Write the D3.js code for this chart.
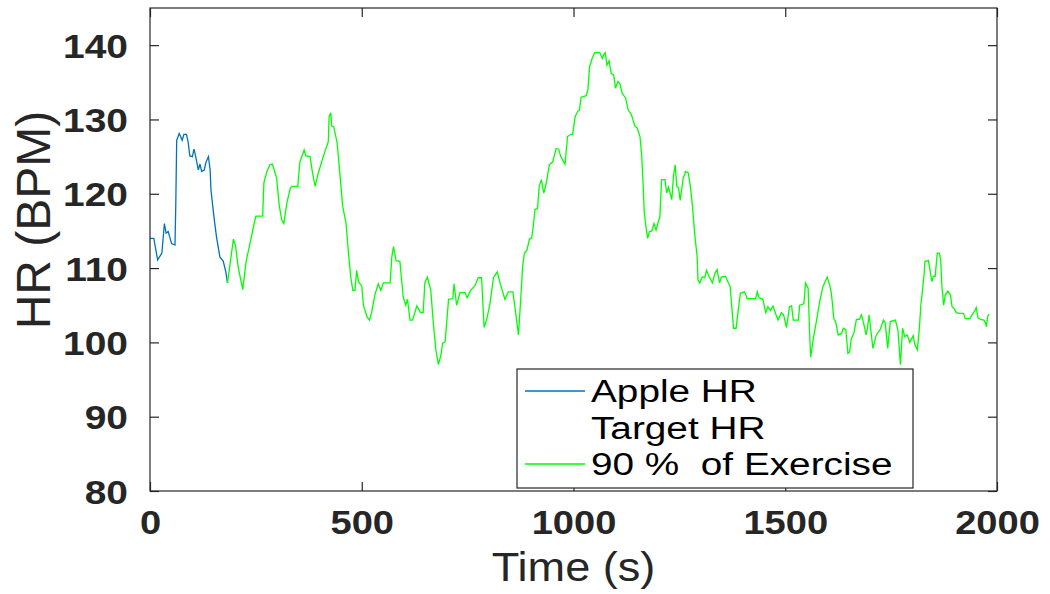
<!DOCTYPE html>
<html>
<head>
<meta charset="utf-8">
<script src="https://cdn.jsdelivr.net/npm/d3@7"></script>
<style>
  body { margin: 0; background: #fff; }
  text { font-family: "Liberation Sans", Arial, sans-serif; }
</style>
</head>
<body>
<svg id="chart" width="1050" height="594"></svg>
<script>
// tick values
const xTicks = [0, 500, 1000, 1500, 2000];
const yTicks = [80, 90, 100, 110, 120, 130, 140];

// Apple HR (blue)
const appleTime = [0, 9, 18, 28, 34, 38, 43, 51, 59, 61, 63, 69, 76, 80, 86, 90, 94, 100, 104, 108, 114, 118, 122, 128, 132, 138, 142, 144, 151, 157, 165, 173, 179, 183];
const appleHR = [114, 114, 111.1, 112, 116, 114.7, 114.9, 113.3, 113.1, 118.9, 127.2, 128.1, 127.2, 128, 128, 127, 125.1, 125, 126, 125, 123.2, 124, 123, 123.2, 124.2, 125, 123.2, 120.5, 116.9, 114.2, 111.5, 110.9, 109.5, 108];

// Target HR has no visible line in the picture
const targetTime = [];
const targetHR = [];

// 90 % of Exercise (green)
const exerciseTime = [183, 187, 197, 202, 208, 219, 227, 236, 246, 250, 266, 269, 276, 283, 289, 299, 305, 311, 316, 323, 331, 335, 349, 354, 364, 368, 378, 384, 390, 397, 409, 421, 423, 427, 429, 434, 442, 449, 455, 463, 468, 474, 479, 484, 488, 492, 500, 504, 512, 518, 523, 531, 539, 545, 551, 567, 571, 575, 581, 590, 598, 604, 608, 614, 620, 630, 639, 645, 649, 655, 663, 669, 675, 681, 687, 691, 697, 705, 715, 718, 724, 732, 744, 749, 757, 767, 775, 783, 789, 796, 803, 811, 820, 827, 838, 846, 857, 865, 870, 875, 880, 884, 890, 896, 901, 905, 909, 915, 919, 924, 930, 936, 943, 951, 959, 965, 970, 977, 980, 986, 994, 998, 1004, 1010, 1014, 1018, 1030, 1034, 1038, 1044, 1050, 1062, 1068, 1071, 1075, 1079, 1084, 1089, 1095, 1099, 1105, 1109, 1115, 1123, 1129, 1137, 1145, 1150, 1157, 1161, 1165, 1167, 1171, 1175, 1179, 1185, 1190, 1195, 1200, 1204, 1208, 1216, 1220, 1224, 1228, 1232, 1236, 1240, 1244, 1248, 1252, 1259, 1265, 1271, 1276, 1281, 1286, 1292, 1294, 1298, 1304, 1310, 1314, 1320, 1328, 1334, 1339, 1345, 1349, 1359, 1365, 1370, 1375, 1378, 1384, 1388, 1394, 1404, 1410, 1430, 1434, 1438, 1447, 1454, 1459, 1465, 1471, 1477, 1483, 1491, 1496, 1503, 1510, 1515, 1519, 1531, 1534, 1544, 1548, 1554, 1558, 1560, 1566, 1574, 1582, 1589, 1599, 1605, 1609, 1615, 1619, 1625, 1633, 1637, 1643, 1648, 1652, 1656, 1662, 1668, 1675, 1680, 1685, 1691, 1694, 1698, 1702, 1707, 1715, 1724, 1732, 1736, 1742, 1748, 1760, 1766, 1772, 1777, 1782, 1788, 1794, 1802, 1806, 1812, 1817, 1820, 1824, 1828, 1830, 1838, 1842, 1846, 1850, 1854, 1859, 1864, 1867, 1870, 1874, 1878, 1884, 1890, 1894, 1898, 1904, 1910, 1921, 1925, 1936, 1941, 1947, 1951, 1955, 1961, 1969, 1973, 1975, 1978, 1981];
const exerciseHR = [108, 109.7, 113.9, 113, 110.2, 107.1, 110.9, 113.3, 116, 117, 117, 121.5, 123, 123.9, 124, 122.1, 118.5, 116.5, 116, 118.7, 120.7, 121, 121, 124.3, 125.9, 125.1, 125, 122.7, 121, 122.7, 125, 127, 130.4, 130.9, 129.1, 129, 126.8, 122.3, 118.3, 116, 112.4, 108.8, 107, 107, 109.7, 108.2, 107.6, 105, 103.5, 103, 103.9, 106.4, 107.9, 107, 108, 108, 111.5, 112.9, 111, 110.9, 106.1, 105, 105.8, 103, 103, 104.9, 104, 104, 108, 108.8, 107, 102.6, 99, 97, 98.3, 99.9, 100.1, 105.8, 105.9, 107.9, 105, 106.7, 106.7, 106, 107, 107.6, 108.7, 108.7, 102, 103.3, 105.3, 108.7, 109.5, 107.9, 105.8, 106.8, 106.8, 103.3, 101, 105.5, 110.2, 112, 112.4, 113.9, 114, 115.6, 117.9, 118, 121, 121.9, 120.1, 121.5, 123.9, 124.3, 126.1, 126, 125, 124.3, 124, 127.7, 128, 128, 130.4, 131.1, 131.3, 133, 133.2, 134, 137.1, 138.2, 139, 139, 138.2, 138.7, 139, 137.3, 137.9, 136.2, 136, 134.2, 135.1, 134.9, 133.5, 132.9, 131.3, 130.6, 129.1, 128.9, 127.7, 125.2, 120.5, 117.6, 115.6, 114, 114.9, 115, 116, 115.1, 116.2, 116.9, 121.9, 121.9, 120.1, 120.9, 120.1, 119.2, 122.3, 123.9, 121, 120.8, 119.1, 122.1, 123, 122.8, 121, 118.3, 114.7, 111.5, 108.4, 108, 108.8, 108.7, 109.7, 108.9, 108, 109.3, 109.8, 108, 108.8, 108.9, 108.1, 107.5, 103.9, 101.9, 101.9, 103.9, 106.6, 106.8, 105.9, 105.9, 106.8, 106, 105.8, 104, 104.8, 104.3, 104.9, 103.9, 103, 104, 103.7, 102, 104.8, 104.9, 103, 103, 105, 105.2, 108, 107.3, 100.6, 98, 100.4, 103, 105.7, 107.5, 108.8, 107.7, 106.6, 103.1, 102.8, 101, 101.2, 101.9, 101.7, 98.5, 98.7, 100.5, 101.2, 103.1, 103.1, 103.7, 102.6, 101, 101.9, 103.7, 101.7, 99.2, 101, 101.7, 103, 102.6, 99.2, 102.8, 103, 101.7, 97, 101.9, 100.8, 101, 100, 100.9, 99.7, 99, 102.1, 104.9, 107, 109.3, 110.9, 111, 109.7, 108.2, 108.9, 108.9, 112, 112, 111.1, 107.5, 105, 106.4, 106.9, 106.4, 104.8, 104.6, 104, 103.9, 103.9, 103.2, 103.2, 103.7, 104.2, 104.7, 103.3, 103.1, 103, 102.6, 102.1, 103.5, 103.8];

const legendLabels = ["Apple HR", "Target HR", "90 %  of Exercise"];
const legendColors = ["#0072BD", "none", "#00FF00"];

function drawChart() {
  const svg = d3.select("#chart");
  const left = 150, right = 997, top = 8, bottom = 491; // plot box
  const tickLen = 9;
  const axisColor = "#262626";

  const x = d3.scaleLinear().domain([0, 2000]).range([left, right]);
  const y = d3.scaleLinear().domain([80, 145]).range([bottom, top]);

  // series lines
  const line = d3.line().x((d) => x(d[0])).y((d) => y(d[1]));
  const series = [
    { t: appleTime, v: appleHR, color: legendColors[0] },
    { t: targetTime, v: targetHR, color: legendColors[1] },
    { t: exerciseTime, v: exerciseHR, color: legendColors[2] },
  ];
  series.forEach((s) => {
    if (!s.t.length) return;
    svg.append("path")
      .datum(d3.zip(s.t, s.v))
      .attr("fill", "none")
      .attr("stroke", s.color)
      .attr("stroke-width", 1.3)
      .attr("d", line);
  });

  // axes, ticks pointing inward on all four sides
  const xAxis = svg.append("g")
    .attr("transform", "translate(0," + bottom + ")")
    .call(d3.axisBottom(x).tickValues(xTicks).tickSizeInner(-tickLen).tickSizeOuter(0).tickFormat(""));
  const yAxis = svg.append("g")
    .attr("transform", "translate(" + left + ",0)")
    .call(d3.axisLeft(y).tickValues(yTicks).tickSizeInner(-tickLen).tickSizeOuter(0).tickFormat(""));
  svg.append("g")
    .attr("transform", "translate(0," + top + ")")
    .call(d3.axisTop(x).tickValues(xTicks).tickSizeInner(-tickLen).tickSizeOuter(0).tickFormat(""));
  svg.append("g")
    .attr("transform", "translate(" + right + ",0)")
    .call(d3.axisRight(y).tickValues(yTicks).tickSizeInner(-tickLen).tickSizeOuter(0).tickFormat(""));
  svg.selectAll(".domain").remove();
  svg.selectAll(".tick line").attr("stroke", axisColor).attr("stroke-width", 1.2);

  // x tick labels: bold, slightly wide
  xAxis.selectAll(".tick").append("text")
    .attr("text-anchor", "middle")
    .attr("transform", "translate(0,43) scale(1.12,1)")
    .attr("font-size", "34px")
    .attr("font-weight", "bold")
    .attr("fill", axisColor)
    .text((d) => d);

  // y tick labels: bold, a bit wide
  yAxis.selectAll(".tick").append("text")
    .attr("text-anchor", "end")
    .attr("transform", "translate(-22,12) scale(1.18,1)")
    .attr("font-size", "33px")
    .attr("font-weight", "bold")
    .attr("fill", axisColor)
    .text((d) => d);

  // plot box
  svg.append("rect")
    .attr("x", left).attr("y", top)
    .attr("width", right - left).attr("height", bottom - top)
    .attr("fill", "none")
    .attr("stroke", axisColor)
    .attr("stroke-width", 1.2);

  // axis titles
  svg.append("text")
    .attr("transform", "translate(" + (left + right) / 2 + ",581) scale(1.1,1)")
    .attr("text-anchor", "middle")
    .attr("font-size", "41px")
    .attr("fill", axisColor)
    .text("Time (s)");

  svg.append("text")
    .attr("transform", "translate(50,220) rotate(-90)")
    .attr("text-anchor", "middle")
    .attr("font-size", "48px")
    .attr("fill", axisColor)
    .text("HR (BPM)");

  // legend
  const lg = svg.append("g").attr("transform", "translate(517,369)");
  lg.append("rect")
    .attr("width", 396).attr("height", 119)
    .attr("fill", "#fff")
    .attr("stroke", axisColor)
    .attr("stroke-width", 1.2);
  const rows = lg.selectAll(".row")
    .data(legendLabels)
    .enter().append("g")
    .attr("transform", (d, i) => "translate(0," + (22 + i * 36.5) + ")");
  rows.append("line")
    .attr("x1", 8).attr("x2", 68)
    .attr("stroke", (d, i) => legendColors[i])
    .attr("stroke-width", 1.3);
  rows.append("text")
    .attr("transform", "translate(74,11) scale(1.25,1)")
    .attr("font-size", "31px")
    .attr("fill", "#000")
    .style("white-space", "pre")
    .text((d) => d);
}

drawChart();
</script>
</body>
</html>
